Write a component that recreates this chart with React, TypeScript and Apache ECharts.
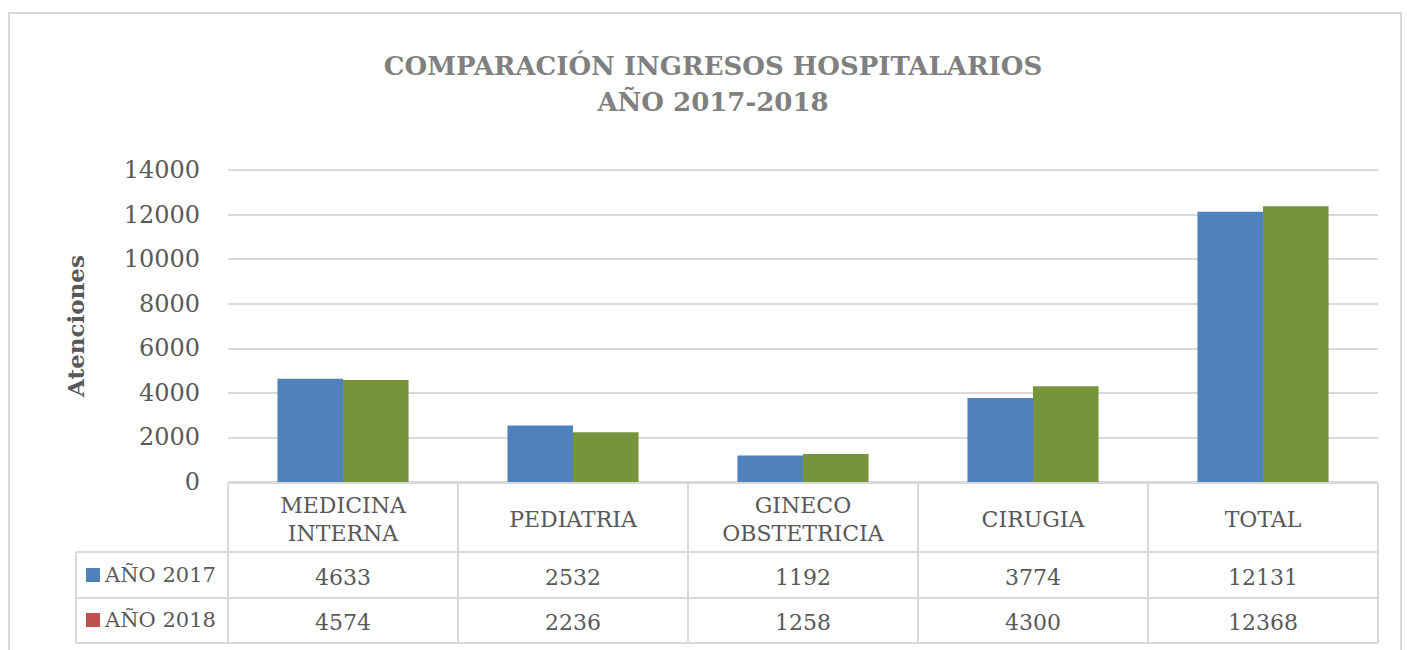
import React, { useEffect, useRef } from "react";
import * as echarts from "echarts";

const categories = ["MEDICINA\nINTERNA", "PEDIATRIA", "GINECO\nOBSTETRICIA", "CIRUGIA", "TOTAL"];
const seriesNames = ["AÑO 2017", "AÑO 2018"];
const values2017 = [4633, 2532, 1192, 3774, 12131];
const values2018 = [4574, 2236, 1258, 4300, 12368];
const barColors = ["#4F81BD", "#77933C"];
const legendColors = ["#4F81BD", "#C0504D"];
const yTicks = { min: 0, max: 14000, interval: 2000 };

const W = 1407;
const H = 650;
const GRID_L = 228;
const GRID_R = 1378;
const GRID_T = 170;
const GRID_B = 482;
const TABLE_LEFT = 76;
const ROW1 = 552;
const ROW2 = 598;
const ROW3 = 643;
const LINE = "#D9D9D9";
const TXT = "#595959";
const FONT = "'DejaVu Serif', serif";

export default function App() {
  const ref = useRef<HTMLDivElement>(null);
  useEffect(() => {
    document.body.style.margin = "0";
    const chart = echarts.init(ref.current!, null, { renderer: "svg" });
    const n = categories.length;
    const colW = (GRID_R - GRID_L) / n;
    const g: any[] = [];
    g.push({ type: "rect", shape: { x: 9, y: 13, width: 1392, height: 660 }, style: { fill: "none", stroke: LINE, lineWidth: 2 }, silent: true });
    g.push({ type: "line", shape: { x1: GRID_L, y1: GRID_B + 1, x2: GRID_R, y2: GRID_B + 1 }, style: { stroke: LINE, lineWidth: 2 } });
    [ROW1, ROW2, ROW3].forEach((y) => g.push({ type: "line", shape: { x1: TABLE_LEFT, y1: y, x2: GRID_R, y2: y }, style: { stroke: LINE, lineWidth: 2 } }));
    for (let i = 0; i <= n; i++) {
      const x = GRID_L + i * colW;
      g.push({ type: "line", shape: { x1: x, y1: GRID_B + 1, x2: x, y2: ROW3 }, style: { stroke: LINE, lineWidth: 2 } });
    }
    g.push({ type: "line", shape: { x1: TABLE_LEFT, y1: ROW1, x2: TABLE_LEFT, y2: ROW3 }, style: { stroke: LINE, lineWidth: 2 } });
    categories.forEach((c, i) => {
      const cx = GRID_L + (i + 0.5) * colW;
      g.push({ type: "text", x: cx, y: (GRID_B + ROW1) / 2 + 2, style: { text: c, font: `22px ${FONT}`, fill: TXT, align: "center", verticalAlign: "middle", lineHeight: 28 } });
      g.push({ type: "text", x: cx, y: (ROW1 + ROW2) / 2 + 2, style: { text: String(values2017[i]), font: `22px ${FONT}`, fill: TXT, align: "center", verticalAlign: "middle" } });
      g.push({ type: "text", x: cx, y: (ROW2 + ROW3) / 2 + 2, style: { text: String(values2018[i]), font: `22px ${FONT}`, fill: TXT, align: "center", verticalAlign: "middle" } });
    });

    chart.setOption({
      animation: false,
      title: {
        text: "COMPARACIÓN INGRESOS HOSPITALARIOS\nAÑO 2017-2018",
        left: 713,
        top: 48,
        textAlign: "center",
        padding: 0,
        textStyle: { fontFamily: FONT, fontSize: 26, fontWeight: "bold", color: "#808080", lineHeight: 36 },
      },
      legend: {
        orient: "vertical",
        left: 86,
        top: 564,
        padding: 0,
        itemWidth: 14,
        itemHeight: 14,
        itemGap: 23,
        icon: "rect",
        selectedMode: false,
        textStyle: { fontFamily: FONT, fontSize: 21, color: TXT, lineHeight: 22 },
        data: seriesNames.map((name, i) => ({ name, itemStyle: { color: legendColors[i] } })),
      },
      grid: { left: GRID_L, right: W - GRID_R, top: GRID_T, bottom: H - GRID_B, containLabel: false },
      xAxis: {
        type: "category",
        data: categories,
        axisLine: { show: false },
        axisTick: { show: false },
        axisLabel: { show: false },
      },
      yAxis: {
        type: "value",
        min: yTicks.min,
        max: yTicks.max,
        interval: yTicks.interval,
        name: "Atenciones",
        nameLocation: "middle",
        nameGap: 141,
        nameTextStyle: { fontFamily: FONT, fontSize: 23, fontWeight: "bold", color: TXT },
        axisLine: { show: false },
        axisTick: { show: false },
        axisLabel: { fontFamily: FONT, fontSize: 24, color: TXT, margin: 28, formatter: (v: number) => String(v) },
        splitLine: { lineStyle: { color: LINE, width: 2 } },
      },
      series: [
        { name: seriesNames[0], type: "bar", data: values2017, itemStyle: { color: barColors[0] }, barGap: "0%", barCategoryGap: "43%" },
        { name: seriesNames[1], type: "bar", data: values2018, itemStyle: { color: barColors[1] }, barGap: "0%", barCategoryGap: "43%" },
      ],
      graphic: g,
    });
    return () => chart.dispose();
  }, []);
  return <div ref={ref} style={{ width: W, height: H }} />;
}
